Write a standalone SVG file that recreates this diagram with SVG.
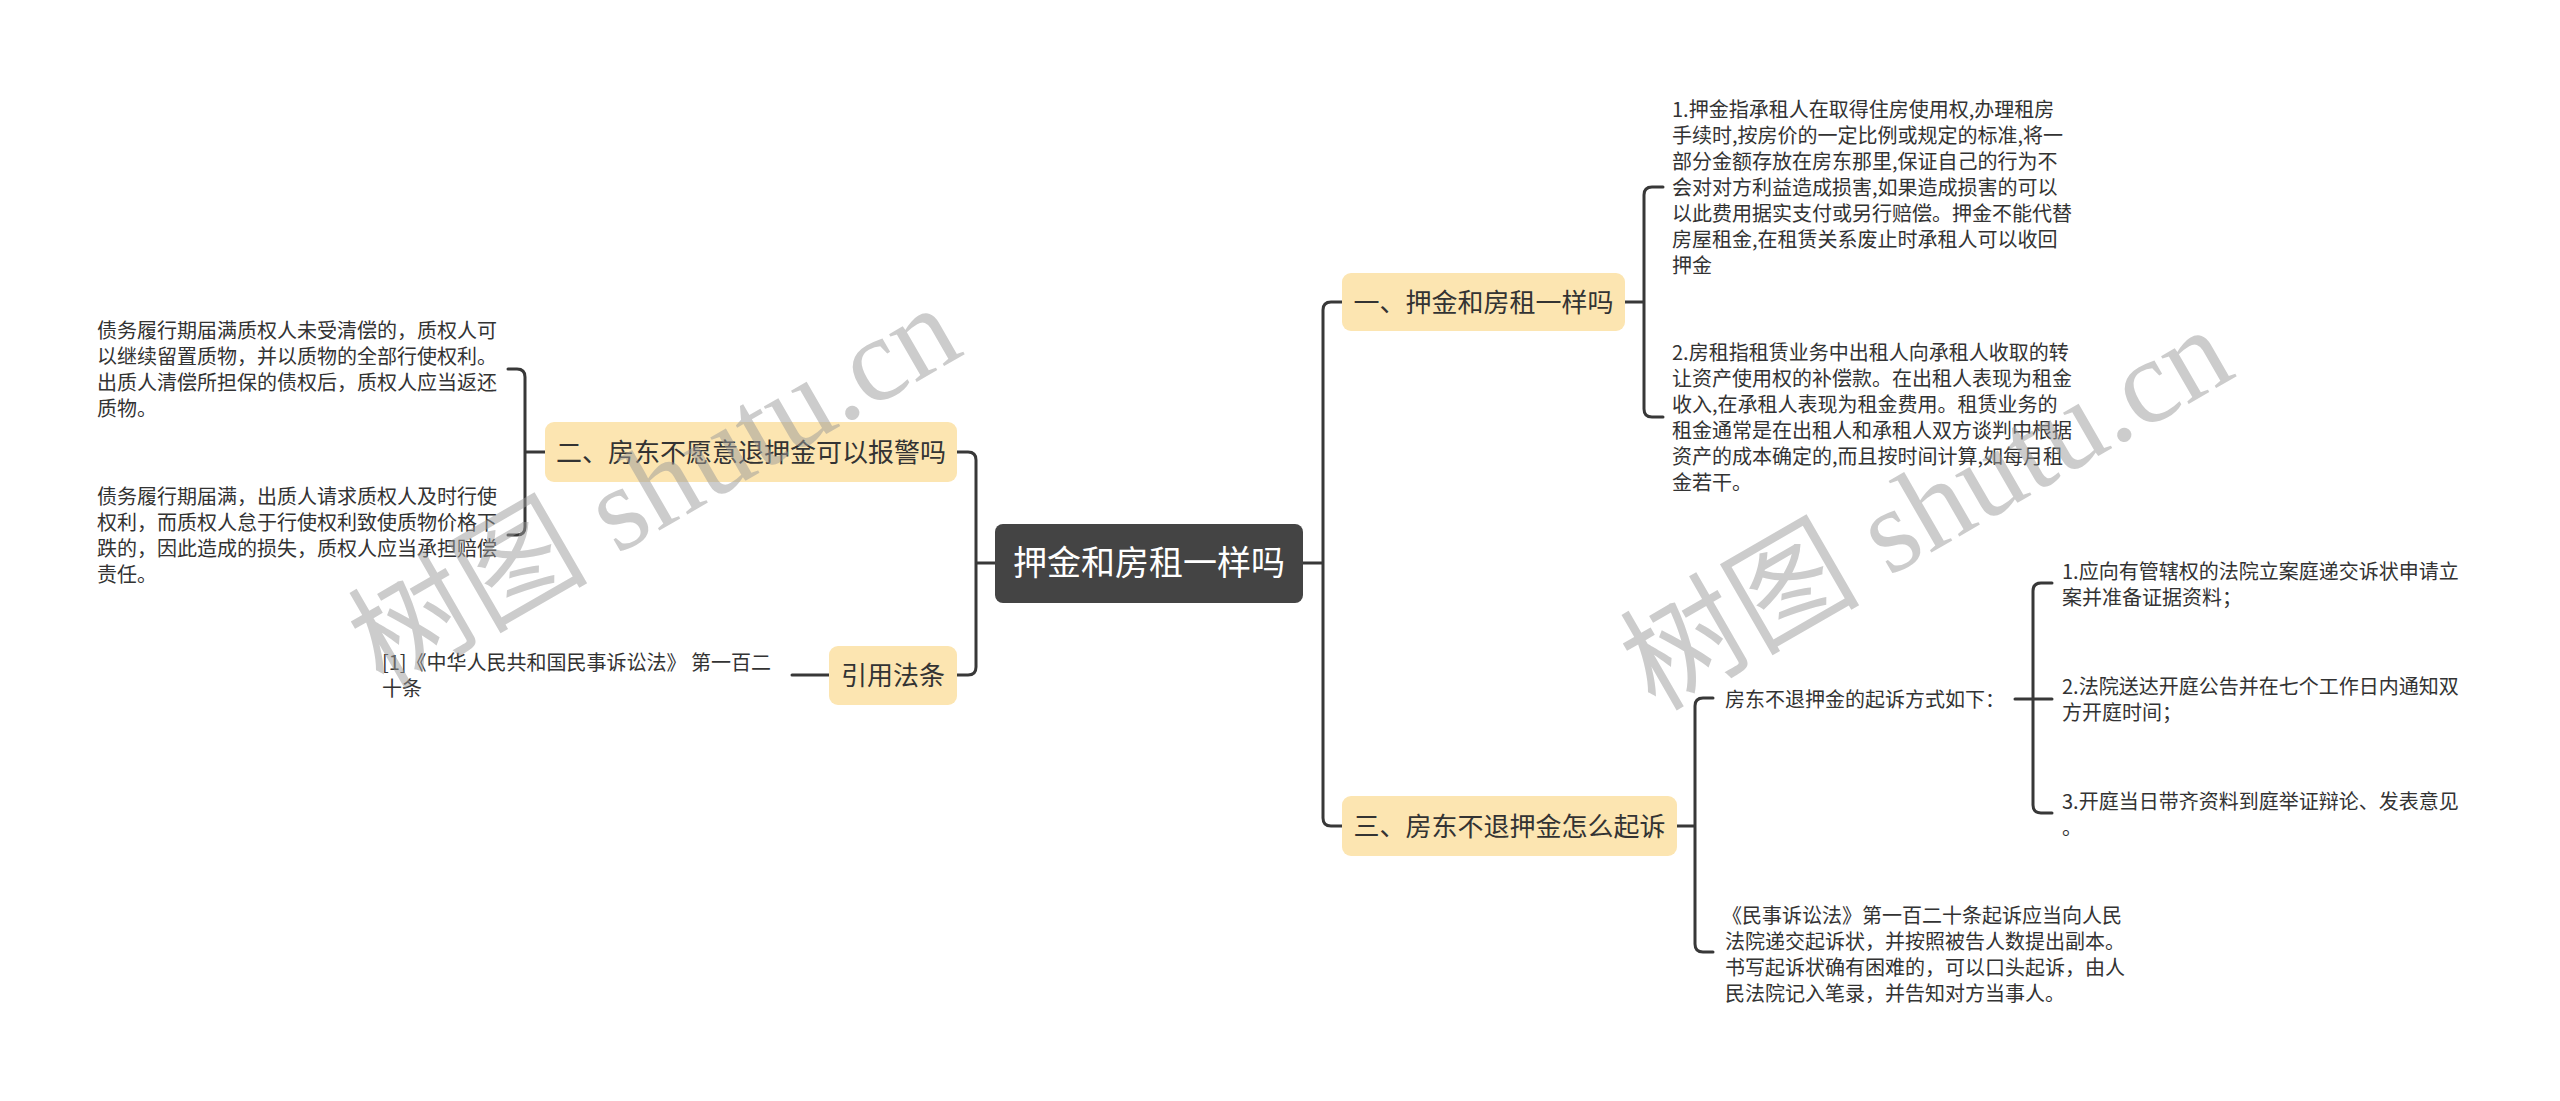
<svg xmlns="http://www.w3.org/2000/svg" width="2560" height="1101" viewBox="0 0 2560 1101">
<style>
.t{font-family:"Noto Sans CJK SC","Noto Sans",sans-serif;fill:#333;}
.s{font-size:20px;}
.n{font-size:26px;text-anchor:middle;}
.box{fill:#FCE5B1;}
.ln{fill:none;stroke:#383838;stroke-width:3;stroke-linecap:round;stroke-linejoin:round;}
.wm{font-family:"Liberation Serif","Noto Sans CJK SC",serif;font-size:120px;fill:#9a9a9a;opacity:0.5;}
</style>
<rect width="2560" height="1101" fill="#fff"/>
<g id="connectors">
<path class="ln" d="M1303,563 H1323 M1323,563 V310 Q1323,302 1331,302 H1342 M1323,563 V818 Q1323,826 1331,826 H1342"/>
<path class="ln" d="M995,563 H976 M976,563 V460 Q976,452 968,452 H957 M976,563 V667 Q976,675 968,675 H957"/>
<path class="ln" d="M1625,302 H1644 M1644,302 V195 Q1644,187 1652,187 H1663 M1644,302 V409 Q1644,417 1652,417 H1663"/>
<path class="ln" d="M1677,826 H1695 M1695,826 V706 Q1695,698 1703,698 H1713 M1695,826 V944 Q1695,952 1703,952 H1713"/>
<path class="ln" d="M2015,699 H2052 M2033,699 V591 Q2033,583 2041,583 H2052 M2033,699 V805 Q2033,813 2041,813 H2052"/>
<path class="ln" d="M545,452 H525 M525,452 V377 Q525,369 517,369 H508 M525,452 V527 Q525,535 517,535 H508"/>
<path class="ln" d="M829,675 H792"/>
</g>
<g id="root">
<rect x="995" y="524" width="308" height="79" rx="8" fill="#444"/>
<text class="t" x="1149" y="575" style="font-size:34px;text-anchor:middle;fill:#fff">押金和房租一样吗</text>
</g>
<g id="n1">
<rect class="box" x="1342" y="273" width="283" height="58" rx="9"/>
<text class="t n" x="1483.5" y="312">一、押金和房租一样吗</text>
</g>
<g id="n1a">
<text class="t s" x="1672" y="117">
<tspan x="1672" y="117">1.押金指承租人在取得住房使用权,办理租房</tspan>
<tspan x="1672" y="143">手续时,按房价的一定比例或规定的标准,将一</tspan>
<tspan x="1672" y="169">部分金额存放在房东那里,保证自己的行为不</tspan>
<tspan x="1672" y="195">会对对方利益造成损害,如果造成损害的可以</tspan>
<tspan x="1672" y="221">以此费用据实支付或另行赔偿。押金不能代替</tspan>
<tspan x="1672" y="247">房屋租金,在租赁关系废止时承租人可以收回</tspan>
<tspan x="1672" y="273">押金</tspan>
</text>
</g>
<g id="n1b">
<text class="t s" x="1672" y="360">
<tspan x="1672" y="360">2.房租指租赁业务中出租人向承租人收取的转</tspan>
<tspan x="1672" y="386">让资产使用权的补偿款。在出租人表现为租金</tspan>
<tspan x="1672" y="412">收入,在承租人表现为租金费用。租赁业务的</tspan>
<tspan x="1672" y="438">租金通常是在出租人和承租人双方谈判中根据</tspan>
<tspan x="1672" y="464">资产的成本确定的,而且按时间计算,如每月租</tspan>
<tspan x="1672" y="490">金若干。</tspan>
</text>
</g>
<g id="n3">
<rect class="box" x="1342" y="796" width="335" height="60" rx="9"/>
<text class="t n" x="1509.5" y="836">三、房东不退押金怎么起诉</text>
</g>
<g id="n3a">
<text class="t s" x="1725" y="707">房东不退押金的起诉方式如下：</text>
</g>
<g id="n3a1">
<text class="t s"><tspan x="2062" y="579">1.应向有管辖权的法院立案庭递交诉状申请立</tspan><tspan x="2062" y="605">案并准备证据资料；</tspan></text>
</g>
<g id="n3a2">
<text class="t s"><tspan x="2062" y="694">2.法院送达开庭公告并在七个工作日内通知双</tspan><tspan x="2062" y="720">方开庭时间；</tspan></text>
</g>
<g id="n3a3">
<text class="t s"><tspan x="2062" y="809">3.开庭当日带齐资料到庭举证辩论、发表意见</tspan><tspan x="2062" y="835">。</tspan></text>
</g>
<g id="n3b">
<text class="t s">
<tspan x="1722" y="923">《民事诉讼法》第一百二十条起诉应当向人民</tspan>
<tspan x="1725" y="949">法院递交起诉状，并按照被告人数提出副本。</tspan>
<tspan x="1725" y="975">书写起诉状确有困难的，可以口头起诉，由人</tspan>
<tspan x="1725" y="1001">民法院记入笔录，并告知对方当事人。</tspan>
</text>
</g>
<g id="n2">
<rect class="box" x="545" y="422" width="412" height="60" rx="9"/>
<text class="t n" x="751" y="462">二、房东不愿意退押金可以报警吗</text>
</g>
<g id="n2a">
<text class="t s">
<tspan x="97" y="338">债务履行期届满质权人未受清偿的，质权人可</tspan>
<tspan x="97" y="364">以继续留置质物，并以质物的全部行使权利。</tspan>
<tspan x="97" y="390">出质人清偿所担保的债权后，质权人应当返还</tspan>
<tspan x="97" y="416">质物。</tspan>
</text>
</g>
<g id="n2b">
<text class="t s">
<tspan x="97" y="504">债务履行期届满，出质人请求质权人及时行使</tspan>
<tspan x="97" y="530">权利，而质权人怠于行使权利致使质物价格下</tspan>
<tspan x="97" y="556">跌的，因此造成的损失，质权人应当承担赔偿</tspan>
<tspan x="97" y="582">责任。</tspan>
</text>
</g>
<g id="n4">
<rect class="box" x="829" y="646" width="128" height="59" rx="9"/>
<text class="t n" x="893" y="685">引用法条</text>
</g>
<g id="n4a">
<text class="t s"><tspan x="382" y="670">[1]《中华人民共和国民事诉讼法》 第一百二</tspan><tspan x="382" y="696">十条</tspan></text>
</g>
<g id="watermark">
<text class="wm" transform="translate(383,690) rotate(-30)">树图 shutu.cn</text>
<text class="wm" transform="translate(1655,712) rotate(-30)">树图 shutu.cn</text>
</g>
</svg>
